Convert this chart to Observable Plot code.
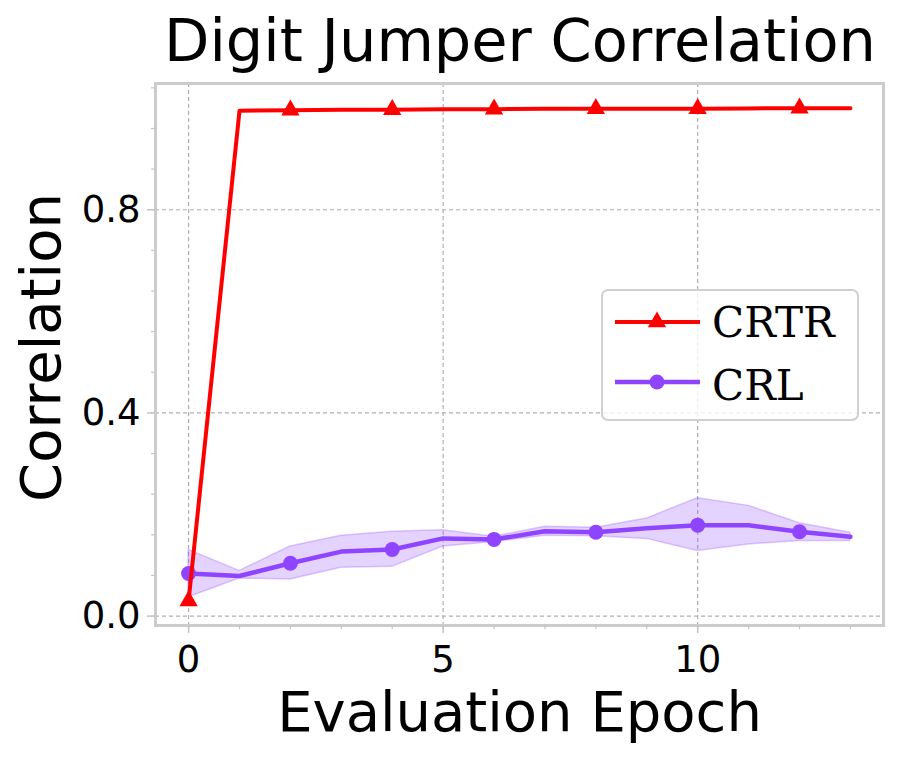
<!DOCTYPE html>
<html>
<head>
<meta charset="utf-8">
<script src="https://cdn.jsdelivr.net/npm/d3@7"></script>
<script src="https://cdn.jsdelivr.net/npm/@observablehq/plot@0.6"></script>
<style>
  html, body { margin: 0; padding: 0; background: white; }
  #wrap { position: relative; width: 898px; height: 757px; }
  #title { height: 80px; line-height: 80px; font-family: "DejaVu Sans", sans-serif; font-size: 59px;
           text-align: center; padding-left: 142px; box-sizing: border-box; width: 898px; position: relative; top: 1px; white-space: nowrap; }
  #legend { position: absolute; left: 601px; top: 289px; width: 258px; height: 132px; box-sizing: border-box;
            border: 2px solid #d0d0d0; border-radius: 7px; background: rgba(255,255,255,0.8); }
</style>
</head>
<body>
<div id="wrap">
  <div id="title">Digit Jumper Correlation</div>
  <div id="chart"></div>
  <div id="legend"></div>
</div>
<script>
const epochs = [0, 1, 2, 3, 4, 5, 6, 7, 8, 9, 10, 11, 12, 13];
const crtr   = [0.03, 0.995, 0.996, 0.997, 0.997, 0.998, 0.998, 0.999, 0.999, 0.999, 0.999, 0.9995, 1.0, 1.0];
const crl    = [0.084, 0.079, 0.104, 0.127, 0.131, 0.153, 0.151, 0.167, 0.165, 0.173, 0.179, 0.179, 0.166, 0.156];
const crlHi  = [0.130, 0.089, 0.137, 0.158, 0.166, 0.169, 0.156, 0.176, 0.174, 0.192, 0.232, 0.217, 0.183, 0.164];
const crlLo  = [0.037, 0.074, 0.072, 0.095, 0.097, 0.137, 0.146, 0.158, 0.157, 0.152, 0.128, 0.141, 0.148, 0.148];
const seriesNames = ["CRTR", "CRL"];
const xMajor = [0, 5, 10];
const yMajor = [0, 0.4, 0.8];

const RED = "#ff0000";
const PURPLE = "#8f45ff";

const data = epochs.map((e, i) => ({epoch: e, crtr: crtr[i], crl: crl[i], hi: crlHi[i], lo: crlLo[i]}));
const markers = data.filter((d, i) => i % 2 === 0 && i < data.length - 1);
const xMinor = d3.range(0, 14, 1);
const yMinor = d3.range(0, 1.05, 0.08);

const tickColor = "#c4c4c4";
const chart = Plot.plot({
  width: 898,
  height: 677,
  marginLeft: 155,
  marginRight: 15,
  marginTop: 3,
  marginBottom: 132,
  x: {domain: [-0.65, 13.65]},
  y: {domain: [-0.0185, 1.0485]},
  style: {fontFamily: "DejaVu Sans, sans-serif", background: "white", overflow: "visible", color: "black"},
  marks: [
    Plot.gridX(xMajor, {stroke: "#b0b0b0", strokeOpacity: 1, strokeWidth: 1.2, strokeDasharray: "4,3"}),
    Plot.gridY(yMajor, {stroke: "#b0b0b0", strokeOpacity: 1, strokeWidth: 1.2, strokeDasharray: "4,3"}),
    Plot.areaY(data, {x: "epoch", y1: "lo", y2: "hi", fill: PURPLE, fillOpacity: 0.24, stroke: PURPLE, strokeOpacity: 0.28, strokeWidth: 1.5}),
    Plot.lineY(data, {x: "epoch", y: "crl", stroke: PURPLE, strokeWidth: 4.5}),
    Plot.dot(markers, {x: "epoch", y: "crl", r: 7.5, fill: PURPLE, stroke: null}),
    Plot.lineY(data, {x: "epoch", y: "crtr", stroke: RED, strokeWidth: 4}),
    Plot.dot(markers, {x: "epoch", y: "crtr", symbol: "triangle", r: 6.8, fill: RED, stroke: null}),
    Plot.frame({stroke: "#cccccc", strokeWidth: 3}),
    Plot.axisX(xMinor, {tickSize: 4, tickFormat: () => "", label: null, stroke: tickColor, strokeWidth: 1.2}),
    Plot.axisY(yMinor, {tickSize: 4, tickFormat: () => "", label: null, stroke: tickColor, strokeWidth: 1.2}),
    Plot.axisX(xMajor, {tickSize: 8, tickPadding: 12, fontSize: 37, label: null, stroke: tickColor, strokeWidth: 1.5, fill: "black", tickFormat: d3.format("d")}),
    Plot.axisY(yMajor, {tickSize: 8, tickPadding: 7, fontSize: 37, label: null, stroke: tickColor, strokeWidth: 1.5, fill: "black", tickFormat: d3.format(".1f")}),
    Plot.text(["Evaluation Epoch"], {frameAnchor: "bottom", textAnchor: "middle", lineAnchor: "bottom", dy: 105, fontSize: 56, fill: "black"}),
    Plot.text(["Correlation"], {frameAnchor: "left", textAnchor: "middle", rotate: -90, dx: -113, dy: -7, fontSize: 56, fill: "black"})
  ]
});
document.getElementById("chart").appendChild(chart);

// legend
const lg = d3.select("#legend").append("svg").attr("width", 258).attr("height", 132)
  .style("position", "absolute").style("left", "-2px").style("top", "-2px");
const rows = [{name: seriesNames[0], color: RED, sym: d3.symbolTriangle, y: 33, ty: 48},
              {name: seriesNames[1], color: PURPLE, sym: d3.symbolCircle, y: 93, ty: 111}];
for (const r of rows) {
  const isCircle = r.sym === d3.symbolCircle;
  lg.append("line").attr("x1", 14).attr("x2", 99).attr("y1", r.y).attr("y2", r.y)
    .attr("stroke", r.color).attr("stroke-width", isCircle ? 4.5 : 4);
  lg.append("path").attr("d", d3.symbol(r.sym, isCircle ? Math.PI * 7.5 * 7.5 : Math.PI * 6.8 * 6.8)())
    .attr("transform", `translate(56,${r.y})`).attr("fill", r.color);
  lg.append("text").attr("x", 111).attr("y", r.ty).attr("font-family", "DejaVu Serif, serif")
    .attr("font-size", 42).attr("fill", "black").text(r.name);
}
</script>
</body>
</html>
